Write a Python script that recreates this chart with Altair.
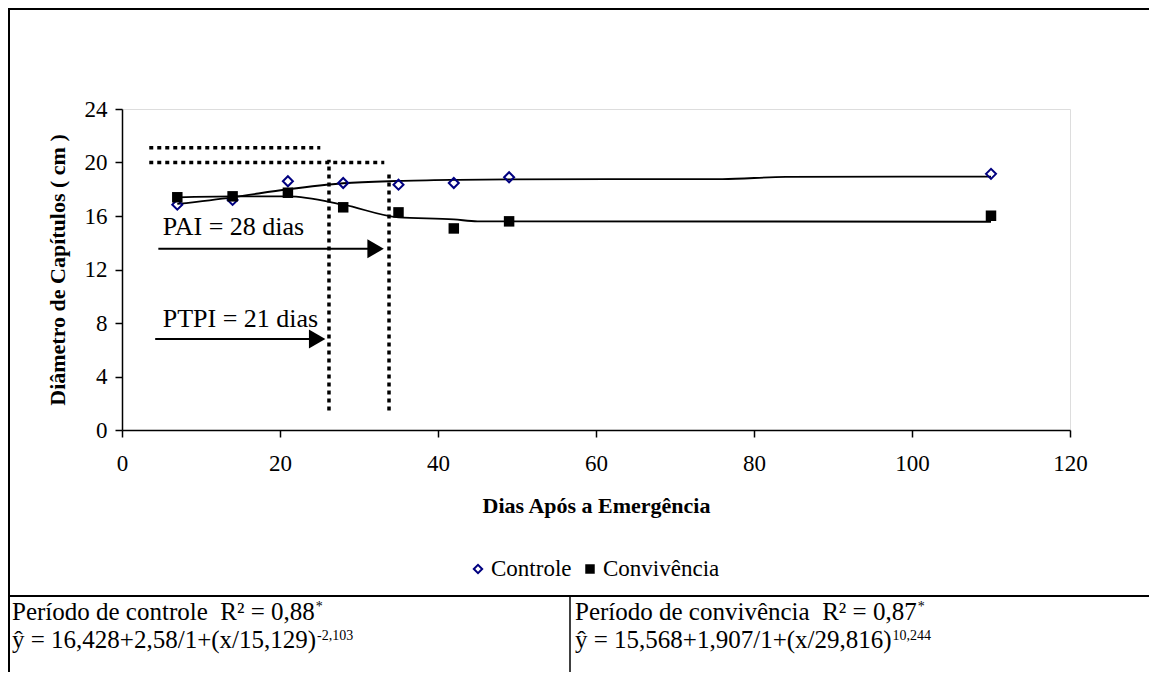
import altair as alt
import pandas as pd

FONT = "Liberation Serif"

# ---- data ----
dias = [7, 14, 21, 28, 35, 42, 49, 110]
controle = [16.85, 17.2, 18.6, 18.47, 18.34, 18.47, 18.9, 19.15]
convivencia = [17.4, 17.47, 17.74, 16.65, 16.27, 15.07, 15.6, 16.02]

# fitted curves
curva_ctrl_x = [7, 14, 21, 28, 35, 42, 49, 76, 84, 110]
curva_ctrl_y = [16.9, 17.4, 18.0, 18.45, 18.62, 18.7, 18.74, 18.76, 18.92, 18.95]
curva_conv_x = [7, 14, 21, 28, 35, 42, 45, 49, 110]
curva_conv_y = [17.4, 17.47, 17.47, 16.85, 15.9, 15.75, 15.6, 15.6, 15.57]

# dotted guide lines (critical periods)
vert_x = [26.2, 33.8]
vert_y_top = [20.2, 19.1]
vert_y_bottom = [1.45, 1.45]
horiz_y = [21.1, 20.0]
horiz_x_start = [3.45, 3.45]
horiz_x_end = [25.1, 33.2]

# arrows with labels
arrow_labels = ["PAI = 28 dias", "PTPI = 21 dias"]
arrow_y = [13.55, 6.8]
arrow_x_start = [4.6, 4.2]
arrow_x_tip = [33.1, 25.7]
label_x = [5.15, 5.15]
label_y = [14.6, 7.67]

x_ticks = [0, 20, 40, 60, 80, 100, 120]
y_ticks = [0, 4, 8, 12, 16, 20, 24]

# ---- layout (plot area 948x321 placed at page 122,109) ----
W, H = 948, 321
PAD_L, PAD_T = 114, 101
TOTAL_W, TOTAL_H = 1141, 664

axis_x = alt.Axis(values=x_ticks, grid=False, domainColor="black", domainWidth=1.5,
                  tickColor="black", tickWidth=1.5, tickSize=7, labelFont=FONT,
                  labelFontSize=23, labelColor="black", labelPadding=15,
                  labelFlush=False, labelOverlap=False,
                  titleFont=FONT, titleFontSize=22, titleFontWeight="bold",
                  titleColor="black", titleY=82, titleBaseline="alphabetic")
axis_y = alt.Axis(values=y_ticks, grid=False, domainColor="black", domainWidth=1.5,
                  tickColor="black", tickWidth=1.5, tickSize=7, labelFont=FONT,
                  labelFontSize=23, labelColor="black", labelPadding=8,
                  labelFlush=False, labelOverlap=False,
                  titleFont=FONT, titleFontSize=22, titleFontWeight="bold",
                  titleColor="black", titleX=-58, titleY=H / 2, titleAngle=270,
                  titleAlign="center", titleBaseline="alphabetic")

X = alt.X("x:Q", scale=alt.Scale(domain=[0, 120], nice=False, zero=False),
          axis=axis_x, title="Dias Após a Emergência")
Y = alt.Y("y:Q", scale=alt.Scale(domain=[0, 24], nice=False, zero=False),
          axis=axis_y, title="Diâmetro de Capítulos ( cm )")

pts_ctrl = pd.DataFrame({"x": dias, "y": controle})
pts_conv = pd.DataFrame({"x": dias, "y": convivencia})
cur_ctrl = pd.DataFrame({"x": curva_ctrl_x, "y": curva_ctrl_y})
cur_conv = pd.DataFrame({"x": curva_conv_x, "y": curva_conv_y})

line_ctrl = alt.Chart(cur_ctrl).mark_line(color="black", strokeWidth=1.8,
                                          interpolate="monotone").encode(x=X, y=Y)
line_conv = alt.Chart(cur_conv).mark_line(color="black", strokeWidth=1.8,
                                          interpolate="monotone").encode(x=X, y=Y)
p_ctrl = alt.Chart(pts_ctrl).mark_point(shape="diamond", filled=False, color="#000080",
                                        strokeWidth=2, size=100, opacity=1).encode(x=X, y=Y)
p_conv = alt.Chart(pts_conv).mark_point(shape="square", filled=True, color="black",
                                        size=110, opacity=1).encode(x=X, y=Y)

vdf = pd.DataFrame({"x": vert_x, "y": vert_y_bottom, "y2": vert_y_top})
hdf = pd.DataFrame({"x": horiz_x_start, "x2": horiz_x_end, "y": horiz_y})
dot_style = dict(color="black", strokeWidth=3.5, strokeDash=[4, 4], strokeCap="butt")
vlines = alt.Chart(vdf).mark_rule(**dot_style).encode(x=X, y=Y, y2="y2:Q")
hlines = alt.Chart(hdf).mark_rule(**dot_style).encode(x=X, x2="x2:Q", y=Y)

adf = pd.DataFrame({"x": arrow_x_start, "x2": [t - 1.2 for t in arrow_x_tip], "y": arrow_y})
hdf2 = pd.DataFrame({"x": [t - 1.0 for t in arrow_x_tip], "y": arrow_y})
ldf = pd.DataFrame({"x": label_x, "y": label_y, "t": arrow_labels})
arrows = alt.Chart(adf).mark_rule(color="black", strokeWidth=2).encode(x=X, x2="x2:Q", y=Y)
heads = alt.Chart(hdf2).mark_point(shape="triangle-right", filled=True, color="black",
                                   size=360, opacity=1).encode(x=X, y=Y)
labels = alt.Chart(ldf).mark_text(align="left", baseline="alphabetic", font=FONT,
                                  fontSize=26, color="black").encode(x=X, y=Y, text="t:N")

one = pd.DataFrame({"a": [0]})


def rule(x1, x2, y1, y2, w):
    return alt.Chart(one).mark_rule(color="black", strokeWidth=w, strokeCap="square").encode(
        x=alt.value(x1), x2=alt.value(x2), y=alt.value(y1), y2=alt.value(y2))


def txt(s, x, y, size, dy=0, align="left", baseline="alphabetic", color="black"):
    return alt.Chart(one).mark_text(align=align, baseline=baseline, font=FONT,
                                    fontSize=size, color=color, dy=dy).encode(
        x=alt.value(x), y=alt.value(y), text=alt.value(s))


def pt(shape, x, y, filled, color, size):
    return alt.Chart(one).mark_point(shape=shape, filled=filled, color=color, size=size,
                                     strokeWidth=2, opacity=1).encode(
        x=alt.value(x), y=alt.value(y))


# frame (page coords -> plot coords: subtract 122, 109)
TABLE_TOP = 487
frame = [
    rule(-113, TOTAL_W - PAD_L, -100, -100, 2),          # top border
    rule(-113, -113, -100, TOTAL_H - PAD_T, 2),          # left border
    rule(-113, TOTAL_W - PAD_L, TABLE_TOP, TABLE_TOP, 2),  # table top
    rule(448, 448, TABLE_TOP, TOTAL_H - PAD_T, 1.5),     # table divider
]

# legend
legend = [
    pt("diamond", 356, 460, False, "#000080", 70),
    txt("Controle", 369, 460, 23, baseline="middle"),
    pt("square", 468, 460, True, "black", 90),
    txt("Convivência", 481, 460, 23, baseline="middle"),
]

# table text
F = 25
SUP = 14
LX = -110
RX = 453
B1, B2 = 511, 539
NB = "\u00a0"
table = [
    txt("Período de controle " + NB + "R² = 0,88", LX, B1, F),
    txt("*", LX + 12.113 * F + 1, B1, SUP, dy=-9),
    txt("ŷ = 16,428+2,58/1+(x/15,129)", LX, B2, F),
    txt("-2,103", LX + 12.164 * F + 1, B2, SUP, dy=-8),
    txt("Período de convivência " + NB + "R² = 0,87", RX, B1, F),
    txt("*", RX + 13.668 * F + 1, B1, SUP, dy=-9),
    txt("ŷ = 15,568+1,907/1+(x/29,816)", RX, B2, F),
    txt("10,244", RX + 12.664 * F + 1, B2, SUP, dy=-8),
]

chart = alt.layer(
    line_ctrl, line_conv, vlines, hlines, arrows, heads, labels, p_ctrl, p_conv,
    *frame, *legend, *table
).properties(
    width=W, height=H,
    autosize=alt.AutoSizeParams(type="none"),
    padding={"left": PAD_L, "top": PAD_T, "right": TOTAL_W - PAD_L - W,
             "bottom": TOTAL_H - PAD_T - H},
).configure_view(strokeWidth=0).configure(background="white")

chart.save("out.html", embed_options={"renderer": "svg", "actions": False})
